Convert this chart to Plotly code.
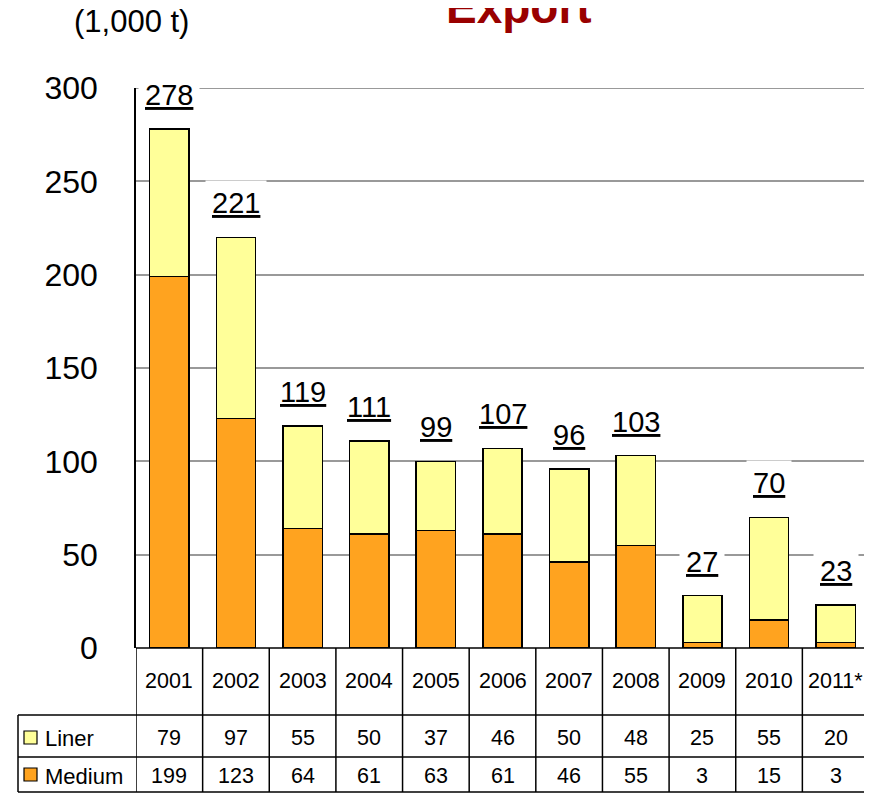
import plotly.graph_objects as go

years = ["2001", "2002", "2003", "2004", "2005", "2006", "2007", "2008", "2009", "2010", "2011*"]
liner = [79, 97, 55, 50, 37, 46, 50, 48, 25, 55, 20]
medium = [199, 123, 64, 61, 63, 61, 46, 55, 3, 15, 3]
totals = [278, 221, 119, 111, 99, 107, 96, 103, 27, 70, 23]
series_names = ["Liner", "Medium"]
y_ticks = [0, 50, 100, 150, 200, 250, 300]

FONT = "Liberation Sans, Arial, sans-serif"
LINER_C = "#FFFF99"
MEDIUM_C = "#FFA31F"
GRID_C = "#999999"

OFF = 8  # page body margin
W, H = 872 - OFF, 793 - OFF
# plot area in page pixels: x 136..869, y 88..648
ML = 136 - OFF
MT = 88 - OFF
MR = W - (869 - OFF)
MB = H - (648 - OFF)
PW = W - ML - MR
PH = H - MT - MB


def py(p):  # page pixel y -> paper y
    return (H - MB - (p - OFF)) / PH


def px(p):  # page pixel x -> paper x
    return ((p - OFF) - ML) / PW


fig = go.Figure()
fig.add_trace(go.Bar(x=years, y=medium, name="Medium", marker=dict(color=MEDIUM_C, line=dict(color="black", width=1.5))))
fig.add_trace(go.Bar(x=years, y=liner, name="Liner", marker=dict(color=LINER_C, line=dict(color="black", width=1.5))))

annotations = []
# totals above bars
for i, (m, l, t) in enumerate(zip(medium, liner, totals)):
    annotations.append(dict(x=i, y=m + l, xref="x", yref="y", text=str(t), showarrow=False,
                            yshift=34, yanchor="middle", bgcolor="white", borderpad=6,
                            font=dict(family=FONT, size=29, color="black", lineposition="under")))
# table texts
for i, (yr, l, m) in enumerate(zip(years, liner, medium)):
    annotations.append(dict(x=i, y=py(681), xref="x", yref="paper", text=yr, showarrow=False,
                            yanchor="middle", font=dict(family=FONT, size=21.5, color="black")))
    annotations.append(dict(x=i, y=py(738), xref="x", yref="paper", text=str(l), showarrow=False,
                            yanchor="middle", font=dict(family=FONT, size=21.5, color="black")))
    annotations.append(dict(x=i, y=py(776), xref="x", yref="paper", text=str(m), showarrow=False,
                            yanchor="middle", font=dict(family=FONT, size=21.5, color="black")))
# legend labels in table
for name, yc in zip(series_names, [738, 776]):
    annotations.append(dict(x=px(43), y=py(yc), xref="paper", yref="paper", text=name, showarrow=False,
                            xanchor="left", yanchor="middle", font=dict(family=FONT, size=22, color="black")))
# title and unit
annotations.append(dict(x=px(519), y=py(7), xref="paper", yref="paper", text="<b>Export</b>", showarrow=False,
                        xanchor="center", yanchor="middle", font=dict(family=FONT, size=46, color="#990000")))
annotations.append(dict(x=px(131), y=py(22), xref="paper", yref="paper", text="(1,000 t)", showarrow=False,
                        xanchor="center", yanchor="middle", font=dict(family=FONT, size=31, color="black")))

shapes = []
# top gridline (at the upper edge of the range)
shapes.append(dict(type="line", xref="paper", yref="y", x0=0, x1=1, y0=y_ticks[-1], y1=y_ticks[-1],
                   line=dict(color=GRID_C, width=2), layer="below"))
line = dict(color="black", width=1.5)
# horizontal table lines
shapes.append(dict(type="line", xref="paper", yref="paper", x0=0, x1=1, y0=0, y1=0, line=line))
for yy in [715, 757, 792]:
    shapes.append(dict(type="line", xref="paper", yref="paper", x0=px(18), x1=1, y0=py(yy), y1=py(yy), line=line))
# vertical table lines
for i in range(len(years) + 1):
    shapes.append(dict(type="line", xref="x", yref="paper", x0=i - 0.5, x1=i - 0.5, y0=0, y1=py(792), line=line))
shapes.append(dict(type="line", xref="paper", yref="paper", x0=px(18), x1=px(18), y0=py(715), y1=py(792), line=line))
# legend swatches
for c, (y0, y1) in zip([LINER_C, MEDIUM_C], [(731, 744), (768, 781)]):
    shapes.append(dict(type="rect", xref="paper", yref="paper", x0=px(24), x1=px(37), y0=py(y1), y1=py(y0),
                       fillcolor=c, line=dict(color="black", width=1.2)))

fig.update_layout(
    width=W, height=H,
    margin=dict(l=ML, r=MR, t=MT, b=MB, autoexpand=False),
    barmode="stack", bargap=0.41,
    plot_bgcolor="white", paper_bgcolor="white",
    showlegend=False,
    font=dict(family=FONT, color="black"),
    xaxis=dict(type="category", categoryorder="array", categoryarray=years, range=[-0.5, len(years) - 0.5],
               showticklabels=False, showgrid=False, zeroline=False, showline=False, ticks=""),
    yaxis=dict(range=[0, 300], tickvals=y_ticks, showgrid=True, gridcolor=GRID_C, gridwidth=2,
               zeroline=False, showline=True, linecolor="black", linewidth=1.5, ticks="",
               tickfont=dict(family=FONT, size=32, color="black"), ticklabelstandoff=30),
    annotations=annotations,
    shapes=shapes,
)

fig.write_html("out.html")
